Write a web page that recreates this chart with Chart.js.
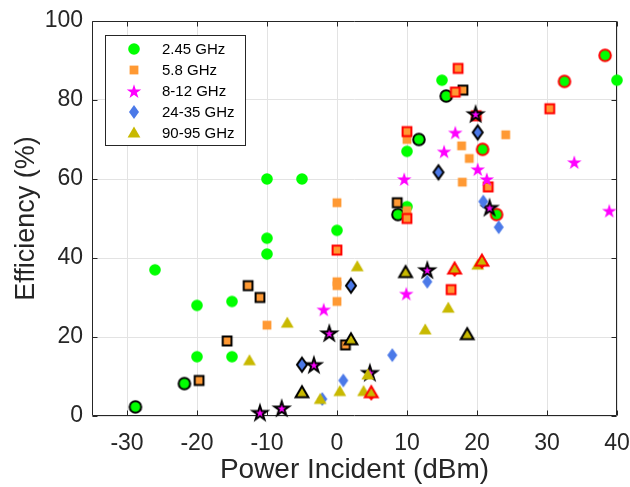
<!DOCTYPE html>
<html>
<head>
<meta charset="utf-8">
<script src="https://cdn.jsdelivr.net/npm/chart.js@4"></script>
<style>
html,body{margin:0;padding:0;background:#fff;}
#wrap{width:630px;height:487px;}
</style>
</head>
<body>
<div id="wrap"><canvas id="c" width="630" height="487"></canvas></div>
<script>
// ---------- data ----------
const seriesNames = ["2.45 GHz", "5.8 GHz", "8-12 GHz", "24-35 GHz", "90-95 GHz"];
const xTicks = [-30, -20, -10, 0, 10, 20, 30, 40];
const yTicks = [0, 20, 40, 60, 80, 100];

// edge: n = none, k = black edge, r = red edge
const g245X = [-26, -20, -20, -15, -15, -10, -10, -10, -5, 0, 10, 10, 15, 40, -28.8, -21.8, 8.7, 11.7, 15.6, 20.8, 22.8, 32.5, 38.3];
const g245Y = [37, 28, 15, 29, 15, 60, 45, 41, 60, 47, 67, 53, 85, 85, 2.3, 8.2, 51, 70, 81, 67.5, 51, 84.7, 91.3];
const g245E = ["n","n","n","n","n","n","n","n","n","n","n","n","n","n","k","k","k","k","k","r","r","r","r"];

const g58X = [-10, 0, 0, 0, 0, 10, 10, 17.8, 18.9, 17.9, 24.1, -19.7, -15.7, -12.7, -11, 1.2, 8.6, 18, 0, 10, 10, 17.3, 16.9, 19.9, 21.6, 30.4, 16.3];
const g58Y = [23, 54, 34, 33, 29, 52, 70, 68.4, 65.2, 59.2, 71.2, 9, 19, 33, 30, 18, 54, 82.5, 42, 50, 72, 88, 82, 76, 58, 77.8, 32];
const g58E = ["n","n","n","n","n","n","n","n","n","n","n","k","k","k","k","k","k","k","r","r","r","r","r","r","r","r","r"];

const g812X = [-1.9, 9.9, 9.6, 15.3, 16.9, 20.1, 21.4, 33.9, 38.9, -11, -7.9, -3.3, -1.1, 4.7, 12.9, 19.8, 21.8];
const g812Y = [27, 31, 60, 67, 71.8, 62.5, 60, 64.3, 52, 0.9, 2, 13, 21, 11, 37, 76.5, 52.8];
const g812E = ["n","n","n","n","n","n","n","n","n","k","k","k","k","k","k","k","k"];

const g2435X = [-2.1, 0.9, 7.9, 12.9, 20.9, 23.1, -5, 2, 14.5, 20.1];
const g2435Y = [4.3, 9, 15.4, 34, 54.3, 47.8, 13, 33, 61.7, 71.8];
const g2435E = ["n","n","n","n","n","n","k","k","k","k"];

const g9095X = [-12.5, -7.1, -2.4, 0.4, 2.9, 3.8, 4.4, 12.6, 15.9, 20.1, -5, 2, 9.8, 18.6, 4.9, 16.8, 20.7];
const g9095Y = [14, 23.5, 4.2, 6.2, 37.8, 6.2, 10.4, 21.8, 27.3, 38.2, 5.9, 19.3, 36.3, 20.6, 5.9, 37.2, 39.2];
const g9095E = ["n","n","n","n","n","n","n","n","n","n","k","k","k","k","r","r","r"];

// ---------- styling ----------
const FONT = "'Liberation Sans', Arial, Helvetica, sans-serif";
const AXC = "#262626";
const fills = ["#00ff00", "#ff9933", "#ff00ff", "#4b79e8", "#c8b900"];
const shapes = ["circle", "square", "star", "diamond", "triangle"];

function pathShape(g, shape) {
  g.beginPath();
  if (shape === "circle") {
    g.arc(0, 0, 5.8, 0, Math.PI * 2);
  } else if (shape === "square") {
    g.rect(-4.4, -4.4, 8.8, 8.8);
  } else if (shape === "star") {
    const R = 7.6, r = R * 0.382;
    for (let i = 0; i < 10; i++) {
      const a = -Math.PI / 2 + i * Math.PI / 5;
      const rr = i % 2 === 0 ? R : r;
      const px = Math.cos(a) * rr, py = Math.sin(a) * rr + 0.8;
      if (i === 0) g.moveTo(px, py); else g.lineTo(px, py);
    }
    g.closePath();
  } else if (shape === "diamond") {
    g.moveTo(0, -7); g.lineTo(5, 0); g.lineTo(0, 7); g.lineTo(-5, 0); g.closePath();
  } else if (shape === "triangle") {
    g.moveTo(0, -6.5); g.lineTo(6.4, 4.6); g.lineTo(-6.4, 4.6); g.closePath();
  }
}

function makeMarker(shape, fill, edge) {
  const S = 26;
  const c = document.createElement("canvas");
  c.width = S; c.height = S;
  const g = c.getContext("2d");
  g.translate(S / 2, S / 2);
  g.lineJoin = "miter";
  if (shape === "triangle" && edge === "r") {
    g.beginPath(); g.moveTo(-3, 4.5); g.lineTo(3, 4.5); g.lineTo(0, 8); g.closePath();
    g.fillStyle = "#ff0000"; g.fill();
  }
  pathShape(g, shape);
  g.fillStyle = fill; g.fill();
  if (edge === "k" || edge === "r") {
    g.lineWidth = 2;
    g.strokeStyle = edge === "k" ? "#000000" : "#ff0000";
    g.stroke();
  }
  return c;
}

const markers = shapes.map((s, i) => ({
  n: makeMarker(s, fills[i], "n"),
  k: makeMarker(s, fills[i], "k"),
  r: makeMarker(s, fills[i], "r")
}));

const allX = [g245X, g58X, g812X, g2435X, g9095X];
const allY = [g245Y, g58Y, g812Y, g2435Y, g9095Y];
const allE = [g245E, g58E, g812E, g2435E, g9095E];

const datasets = seriesNames.map((name, i) => ({
  label: name,
  data: allX[i].map((x, j) => ({ x: x, y: allY[i][j] })),
  pointStyle: (ctx) => markers[i][allE[i][ctx.dataIndex]] || markers[i].n,
  pointRadius: 6,
  pointHoverRadius: 6,
  showLine: false,
  clip: false,
  order: 5 - i
}));

// ---------- plugins ----------
const boxPlugin = {
  id: "boxPlugin",
  beforeDatasetsDraw(chart) {
    const { ctx, chartArea: a, scales } = chart;
    ctx.save();
    ctx.strokeStyle = AXC;
    ctx.lineWidth = 1;
    const L = Math.round(a.left) + 0.5, R = Math.round(a.right) - 0.5;
    const T = Math.round(a.top) + 0.5, B = Math.round(a.bottom) - 0.5;
    ctx.beginPath();
    ctx.rect(L, T, R - L, B - T);
    const tl = 5;
    xTicks.forEach(v => {
      const px = Math.round(scales.x.getPixelForValue(v)) + 0.5;
      ctx.moveTo(px, B); ctx.lineTo(px, B - tl);
      ctx.moveTo(px, T); ctx.lineTo(px, T + tl);
    });
    yTicks.forEach(v => {
      const py = Math.round(scales.y.getPixelForValue(v)) + 0.5;
      ctx.moveTo(L, py); ctx.lineTo(L + tl, py);
      ctx.moveTo(R, py); ctx.lineTo(R - tl, py);
    });
    ctx.stroke();
    ctx.restore();
  },
  afterDraw(chart) {
    const ctx = chart.ctx;
    ctx.save();
    const bx = 105.5, by = 35.5, bw = 140, bh = 110;
    ctx.fillStyle = "#ffffff";
    ctx.fillRect(bx, by, bw, bh);
    ctx.strokeStyle = AXC;
    ctx.lineWidth = 1;
    ctx.strokeRect(bx, by, bw, bh);
    const rows = [49, 70, 91, 112, 133];
    ctx.font = "15px " + FONT;
    ctx.fillStyle = "#000000";
    ctx.textBaseline = "middle";
    ctx.textAlign = "left";
    seriesNames.forEach((n, i) => {
      const m = markers[i].n;
      ctx.drawImage(m, 134 - m.width / 2, rows[i] - m.height / 2);
      ctx.fillText(n, 162, rows[i] + 1);
    });
    ctx.restore();
  }
};

new Chart(document.getElementById("c"), {
  type: "scatter",
  data: { datasets: datasets },
  options: {
    responsive: false,
    devicePixelRatio: 1,
    animation: false,
    layout: { padding: { left: 0, right: 13, top: 21, bottom: 0 } },
    plugins: { legend: { display: false }, tooltip: { enabled: false } },
    scales: {
      x: {
        type: "linear",
        min: -35, max: 40,
        afterBuildTicks: (s) => { s.ticks = xTicks.map(v => ({ value: v })); },
        afterFit: (s) => { s.height = 71; s.paddingLeft = 0; s.paddingRight = 0; },
        grid: { color: "#e3e3e3", lineWidth: 1, drawTicks: false },
        border: { display: false },
        ticks: { color: AXC, font: { family: FONT, size: 23 }, padding: 14, maxRotation: 0, autoSkip: false,
                 callback: (v) => String(v) },
        title: { display: true, text: "Power Incident (dBm)", color: AXC,
                 font: { family: FONT, size: 28 }, padding: { top: 0, bottom: 0 } }
      },
      y: {
        type: "linear",
        min: 0, max: 100,
        afterBuildTicks: (s) => { s.ticks = yTicks.map(v => ({ value: v })); },
        afterFit: (s) => { s.width = 92; s.paddingTop = 0; s.paddingBottom = 0; },
        grid: { color: "#e3e3e3", lineWidth: 1, drawTicks: false },
        border: { display: false },
        ticks: { color: AXC, font: { family: FONT, size: 23 }, padding: 9, autoSkip: false,
                 callback: (v) => String(v) },
        title: { display: true, text: "Efficiency (%)", color: AXC,
                 font: { family: FONT, size: 27 }, padding: { top: 10, bottom: 0 } }
      }
    }
  },
  plugins: [boxPlugin]
});
</script>
</body>
</html>
